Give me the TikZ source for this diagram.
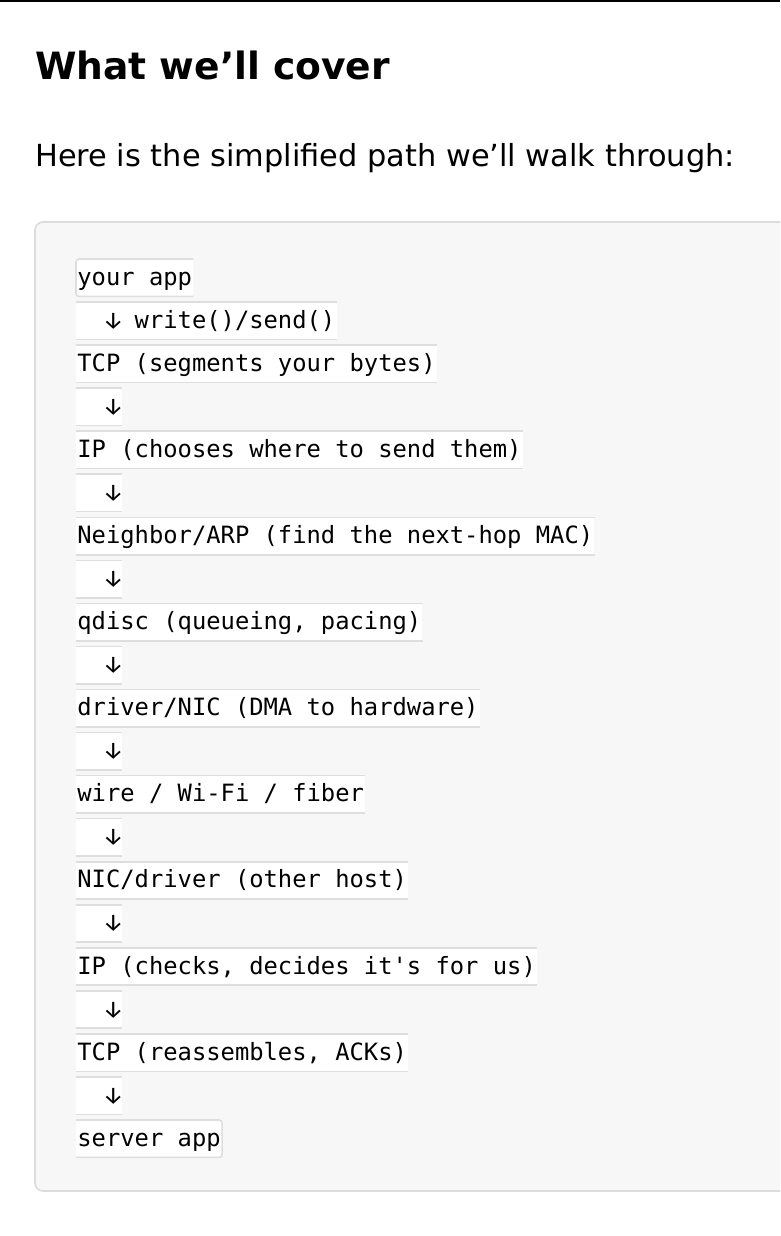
\documentclass[tikz,border=0pt]{standalone}
\usepackage{fontspec}
\usepackage{graphicx}
\setmainfont{DejaVu Sans}
\setmonofont{DejaVu Sans Mono}
\newfontfamily\arrowfont{Fira Sans}
\definecolor{boxbg}{HTML}{F7F7F7}
\definecolor{boxline}{HTML}{DCDCDC}
\definecolor{fragline}{HTML}{DEDEDE}
\newcommand\dn{\makebox[0.602em][c]{\arrowfont ↓}}
\newcommand\codeline[3]{%
  \node[frag] (#1) at (76,#2) {#3};
  \draw[fragborder] (#1.north west) -- (#1.north east) (#1.south west) -- (#1.south east);}
\begin{document}
\begin{tikzpicture}[x=1pt,y=-1pt,
  frag/.style={anchor=north west, fill=white, inner xsep=1.2pt, inner ysep=0pt,
    minimum height=37pt, text height=19pt, text depth=4pt,
    font=\ttfamily\fontsize{23.8}{28}\selectfont},
  fragborder/.style={draw=fragline, line width=1.6pt},
  title/.style={anchor=base west, inner sep=0pt, font=\bfseries\fontsize{37.6}{44}\selectfont},
  lead/.style={anchor=base west, inner sep=0pt, font=\fontsize{30.4}{36}\selectfont}]
\useasboundingbox (0,0) rectangle (780,1236);
\clip (0,0) rectangle (780,1236);
\fill[white] (0,0) rectangle (780,1236);
\fill[black] (0,0) rectangle (780,2);
\node[title] (t) at (35,80) {What we’ll cover};
\node[lead] (s) at (35,166) {Here is the simplified path we’ll walk through:};
\draw[draw=boxline, fill=boxbg, line width=1.6pt, rounded corners=8pt] (35,222) rectangle (820,1191);
% first line with rounded left edge
\node[frag, fill=none] (l0) at (76,259) {your app};
\fill[white, rounded corners=3pt] (l0.north east) -- (l0.north west) -- (l0.south west) -- (l0.south east) -- cycle;
\node[frag, fill=none] at (l0.north west) {your app};
\draw[fragborder, rounded corners=3pt] (l0.north east) -- (l0.north west) -- (l0.south west) -- (l0.south east);
\codeline{l1}{302.05}{\ \ \dn\ write()/send()}
\codeline{l2}{345.1}{TCP (segments your bytes)}
\codeline{l3}{388.15}{\ \ \dn}
\codeline{l4}{431.2}{IP (chooses where to send them)}
\codeline{l5}{474.25}{\ \ \dn}
\codeline{l6}{517.3}{Neighbor/ARP (find the next-hop MAC)}
\codeline{l7}{560.35}{\ \ \dn}
\codeline{l8}{603.4}{qdisc (queueing, pacing)}
\codeline{l9}{646.45}{\ \ \dn}
\codeline{l10}{689.5}{driver/NIC (DMA to hardware)}
\codeline{l11}{732.55}{\ \ \dn}
\codeline{l12}{775.6}{wire / Wi-Fi / fiber}
\codeline{l13}{818.65}{\ \ \dn}
\codeline{l14}{861.7}{NIC/driver (other host)}
\codeline{l15}{904.75}{\ \ \dn}
\codeline{l16}{947.8}{IP (checks, decides it's for us)}
\codeline{l17}{990.85}{\ \ \dn}
\codeline{l18}{1033.9}{TCP (reassembles, ACKs)}
\codeline{l19}{1076.95}{\ \ \dn}
% last line with rounded right edge
\node[frag, fill=none] (l20) at (76,1120) {server app};
\fill[white, rounded corners=3pt] (l20.north west) -- (l20.north east) -- (l20.south east) -- (l20.south west) -- cycle;
\node[frag, fill=none] at (l20.north west) {server app};
\draw[fragborder, rounded corners=3pt] (l20.north west) -- (l20.north east) -- (l20.south east) -- (l20.south west);
\end{tikzpicture}
\end{document}
